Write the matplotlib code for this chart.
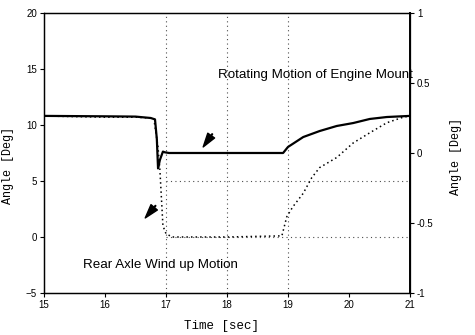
import matplotlib
matplotlib.use("Agg")
import matplotlib.pyplot as plt

# Rear axle wind-up motion (left axis, deg) - dotted
t_axle = [15.0, 15.5, 16.0, 16.5, 16.8, 16.87, 16.90, 16.93, 16.95, 17.0, 17.1,
          18.0, 18.9, 18.98, 19.08, 19.25, 19.39, 19.52, 19.80, 20.07, 20.34,
          20.62, 20.89, 21.0]
axle = [10.8, 10.75, 10.7, 10.7, 10.6, 8.0, 6.0, 3.0, 1.0, 0.3, 0.0,
        0.0, 0.1, 1.8, 2.7, 3.9, 5.3, 6.2, 7.1, 8.4, 9.3,
        10.2, 10.7, 10.8]

# Rotating motion of engine mount (right axis, deg) - solid
t_eng = [15.0, 16.0, 16.5, 16.75, 16.82, 16.85, 16.87, 16.90, 16.95, 16.98,
         17.05, 18.0, 18.92, 19.0, 19.25, 19.52, 19.80, 20.07, 20.34, 20.62,
         21.0]
eng = [0.265, 0.262, 0.26, 0.25, 0.24, 0.10, -0.11, -0.05, 0.01, 0.005,
       0.0, 0.0, 0.0, 0.043, 0.114, 0.157, 0.193, 0.214, 0.243, 0.257,
       0.265]

xticks = [15, 16, 17, 18, 19, 20, 21]
yticks_left = [-5, 0, 5, 10, 15, 20]
yticks_right = [-1, -0.5, 0, 0.5, 1]
yticklabels_right = ["-1", "-0.5", "0", "0.5", "1"]

plt.rcParams['font.family'] = ['Liberation Sans', 'DejaVu Sans']

fig = plt.figure(figsize=(4.75, 3.35), dpi=100)
ax = fig.add_axes([0.0926, 0.1254, 0.7705, 0.8358])
ax2 = ax.twinx()

# sparse dotted grid as seen on the scan
ax.vlines([17, 18, 19], -5, 20, colors='0.3', linestyles=(0, (1, 3)), lw=0.8)
ax.hlines([0, 5], 17, 21, colors='0.3', linestyles=(0, (1, 3)), lw=0.8)

ax.plot(t_axle, axle, color='black', lw=1.1, linestyle=(0, (1, 2)))
ax2.plot(t_eng, eng, color='black', lw=1.6)

ax.set_xlim(15, 21)
ax.set_ylim(-5, 20)
ax2.set_ylim(-1, 1)
ax.set_xticks(xticks)
ax.set_yticks(yticks_left)
ax2.set_yticks(yticks_right)
ax2.set_yticklabels(yticklabels_right)

for a in (ax, ax2):
    a.tick_params(labelsize=7, length=3, width=0.8, direction='out', pad=2)
    for s in a.spines.values():
        s.set_linewidth(0.9)
ax2.spines['right'].set_linewidth(1.4)

ax.set_xlabel("Time [sec]", family='Liberation Mono', fontsize=9)
ax.set_ylabel("Angle [Deg]", family='Liberation Mono', fontsize=8.5)
ax2.set_ylabel("Angle [Deg]", family='Liberation Mono', fontsize=8.5)
ax.xaxis.set_label_coords(0.486, -0.095)
ax.yaxis.set_label_coords(-0.082, 0.457)
ax2.yaxis.set_label_coords(1.11, 0.486)

ax.text(17.85, 14.46, "Rotating Motion of Engine Mount", fontsize=9.6,
        ha='left', va='center')
ax.text(15.64, -2.5, "Rear Axle Wind up Motion", fontsize=9.6,
        ha='left', va='center')

# two small filled arrowheads
ax.annotate("", xy=(17.61, 8.04), xytext=(17.76, 9.2),
            arrowprops=dict(facecolor='black', edgecolor='black', width=0.5,
                            headwidth=6, headlength=10, shrink=0))
ax.annotate("", xy=(16.66, 1.70), xytext=(16.83, 2.8),
            arrowprops=dict(facecolor='black', edgecolor='black', width=0.5,
                            headwidth=6, headlength=10, shrink=0))

fig.savefig("out.png", dpi=100)
